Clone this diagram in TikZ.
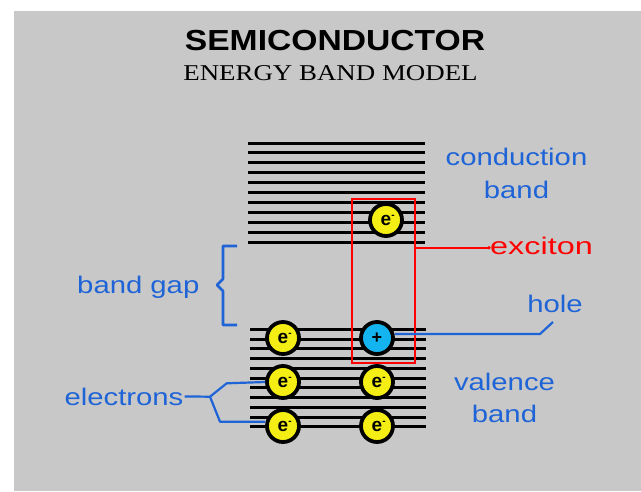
\documentclass[tikz,border=0pt]{standalone}
\usepackage{fontspec}
\setmainfont{Liberation Sans}
\newfontfamily\serifttl{Liberation Serif}
\usetikzlibrary{calc}
\definecolor{bg}{RGB}{200,200,200}
\definecolor{lbl}{RGB}{30,100,215}
\definecolor{eyellow}{RGB}{245,238,20}
\definecolor{hcyan}{RGB}{20,180,240}
\newcommand{\etxt}{{\fontsize{19}{19}\selectfont\bfseries e}\rlap{\raisebox{7pt}{\fontsize{10}{10}\selectfont\bfseries -}}}
\newcommand{\lblfont}{\fontsize{24}{24}\selectfont}
\begin{document}
\begin{tikzpicture}[x=1pt,y=-1pt,
  level/.style={line width=3pt,black},
  elec/.style={circle,draw=black,line width=3.8pt,fill=eyellow,minimum size=32pt,inner sep=0pt},
  holec/.style={circle,draw=black,line width=3.8pt,fill=hcyan,minimum size=32pt,inner sep=0pt},
  lbltext/.style={text=lbl,inner sep=1pt},
  bluec/.style={draw=lbl,line width=2.2pt,line join=round},
  redc/.style={draw=red,line width=1.8pt}]
\useasboundingbox (0,0) rectangle (641,491);
\fill[white] (0,0) rectangle (641,491);
\fill[bg] (14,11) rectangle (641,491);
% title
\node[anchor=base,inner sep=0pt] (title) at (335,50.7) {\fontsize{29}{29}\selectfont\bfseries\scalebox{1.16}[1]{SEMICONDUCTOR}};
\node[anchor=base,inner sep=0pt] (subtitle) at (330.5,80) {\serifttl\fontsize{22.6}{23}\selectfont\scalebox{1.19}[1]{ENERGY BAND MODEL}};
% levels
\foreach \i in {0,...,10} {
  \draw[level] (248,143+\i*9.9) -- (425,143+\i*9.9);
  \draw[level] (250,329.3+\i*9.75) -- (426,329.3+\i*9.75);
}
% exciton box
\coordinate (exnw) at (351.7,199.3);
\coordinate (exse) at (415,363.3);
\coordinate (exout) at (415,247.7);
\draw[redc] (exnw) rectangle (exse);
% particles
\node[elec] (c1) at (386,220) {\etxt};
\node[elec] (v11) at (283,338) {\etxt};
\node[holec] (h1) at (377,338) {{\fontsize{18}{18}\selectfont\bfseries +}};
\node[elec] (v21) at (283,382) {\etxt};
\node[elec] (v22) at (377,382) {\etxt};
\node[elec] (v31) at (283,426) {\etxt};
\node[elec] (v32) at (377,426) {\etxt};
% labels
\node[lbltext,anchor=base] (cond) at (516.5,165) {\lblfont\scalebox{1.22}[1]{conduction}};
\node[lbltext,anchor=base] (condb) at (516.5,198) {\lblfont\scalebox{1.22}[1]{band}};
\node[anchor=base west,text=red,inner sep=1pt] (exciton) at (489,254) {\lblfont\scalebox{1.35}[1]{exciton}};
\node[lbltext,anchor=base] (hole) at (555,312.7) {\lblfont\scalebox{1.22}[1]{hole}};
\node[lbltext,anchor=base] (val) at (504.5,390) {\lblfont\scalebox{1.22}[1]{valence}};
\node[lbltext,anchor=base] (valb) at (504.5,422.7) {\lblfont\scalebox{1.22}[1]{band}};
\node[lbltext,anchor=base] (gap) at (138.3,293) {\lblfont\scalebox{1.22}[1]{band gap}};
\node[lbltext,anchor=base] (electrons) at (124,405) {\lblfont\scalebox{1.22}[1]{electrons}};
% connectors
\draw[redc] (exout) -- (exout -| exciton.west);
\fill[red] (exout -| exciton.west) circle (1.8pt);
\coordinate (holebend) at (540,334);
\coordinate (holetip) at (553,322);
\draw[bluec] ($(h1.east)+(0,-4)$) -- (holebend) -- (holetip);
\coordinate (ef) at (210,396.7);
\draw[bluec] (electrons.east) -- (ef) -- (226.7,383.3) -- (v21.west);
\draw[bluec] (ef) -- (220,421.7) -- (v31.west |- 0,421.7);
% brace
\draw[bluec,line width=2.6pt] (237,246) -- (223,246) -- (223,279) -- (217,285) -- (223,291) -- (223,325) -- (237,325);
\end{tikzpicture}
\end{document}
